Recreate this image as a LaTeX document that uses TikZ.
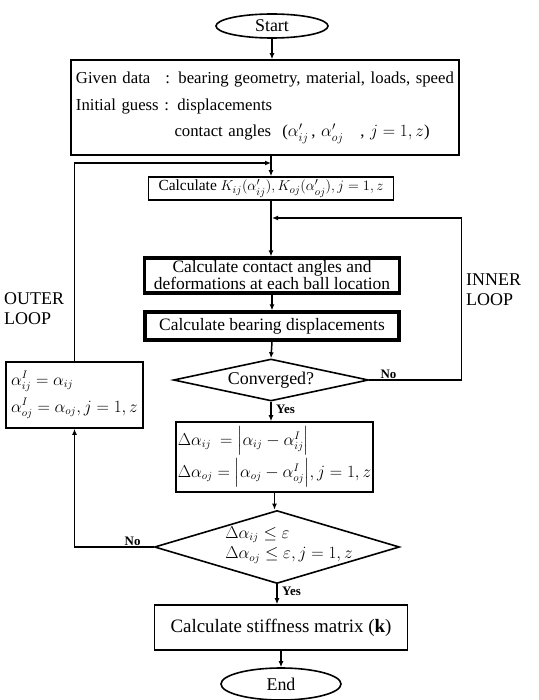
\documentclass[tikz,border=0pt]{standalone}
\usepackage{amsmath, amssymb}
\usepackage{fontspec}
\setmainfont{Liberation Serif}
\usetikzlibrary{arrows.meta, positioning, shapes.geometric}

\begin{document}
\begin{tikzpicture}[
      x=1bp, y=-1bp,
      box/.style={rectangle, draw, line width=1.6bp, inner sep=2bp},
      heavy/.style={box, line width=3.2bp},
      decision/.style={diamond, draw, line width=1.6bp, inner sep=0pt, aspect=4},
      terminal/.style={ellipse, draw, line width=1.6bp, inner sep=0pt},
      edge/.style={-{Latex[length=6bp, width=5bp]}, line width=1.5bp},
      tag/.style={font=\fontsize{13}{13}\selectfont\bfseries, inner sep=1bp},
      side/.style={font=\fontsize{18}{20}\selectfont, align=left, anchor=north west, inner sep=0pt}
    ]
    \useasboundingbox (0,0) rectangle (539,700);
    \node[terminal, minimum width=112bp, minimum height=24bp, font=\fontsize{18}{18}\selectfont] (start) at (272,26) {Start};
    \node[box, minimum width=388bp, minimum height=95bp, text width=378bp, align=left, font=\fontsize{16.8}{27}\selectfont] (given) at (265,107.5)
      {Given data\hspace{0.9em}: bearing geometry, material, loads, speed\\
       Initial guess : displacements\\
       \phantom{Initial guess :\ }contact angles \ ($\alpha'_{ij}$\,, $\alpha'_{oj}$\quad, $j=1,z$)};
    \node[box, minimum width=245bp, minimum height=23bp, font=\fontsize{15.5}{15.5}\selectfont] (calcK) at (271,188.5)
      {Calculate $K_{ij}(\alpha'_{ij}), K_{oj}(\alpha'_{oj}), j=1,z$};
    \node[heavy, minimum width=255bp, minimum height=35bp, align=center, font=\fontsize{17.5}{17}\selectfont] (angles) at (272,275.5)
      {Calculate contact angles and\\deformations at each ball location};
    \node[heavy, minimum width=254bp, minimum height=28bp, font=\fontsize{17.5}{17}\selectfont] (disp) at (272,326)
      {Calculate bearing displacements};
    \node[decision, minimum width=195bp, minimum height=42bp, font=\fontsize{18}{18}\selectfont] (conv) at (271,380) {Converged?};
    \node[box, minimum width=177bp, minimum height=70bp, align=left, font=\fontsize{16}{28}\selectfont] (delta) at (274.5,457)
      {$\Delta\alpha_{ij}\ = \Bigl|\alpha_{ij}-\alpha^{I}_{ij}\Bigr|$\\
       $\Delta\alpha_{oj} = \Bigl|\alpha_{oj}-\alpha^{I}_{oj}\Bigr|, j=1,z$};
    \node[decision, minimum width=245bp, minimum height=73bp] (check) at (277,547) {};
    \node[align=left, inner sep=0pt, font=\fontsize{16}{21}\selectfont] (checktext) at (289,545)
      {$\Delta\alpha_{ij}\le\varepsilon$\\$\Delta\alpha_{oj}\le\varepsilon, j=1,z$};
    \node[box, minimum width=253bp, minimum height=45bp, font=\fontsize{19}{19}\selectfont] (stiff) at (281,627.5)
      {Calculate stiffness matrix (\textbf{k})};
    \node[terminal, minimum width=120bp, minimum height=32bp, font=\fontsize{18}{18}\selectfont] (end) at (281,684) {End};
    \node[box, minimum width=137bp, minimum height=66bp, align=left, font=\fontsize{16}{27}\selectfont] (update) at (74.5,395)
      {$\alpha^{I}_{ij}=\alpha_{ij}$\\$\alpha^{I}_{oj}=\alpha_{oj}, j=1,z$};
    \node[side] (outerlbl) at (4,292) {OUTER\\LOOP};
    \node[side] (innerlbl) at (466,274) {INNER\\LOOP};
    \coordinate (outerjoin) at (271,163);
    \coordinate (innerjoin) at (272,218);
    \draw[edge] (start.south) -- (start.south |- given.north);
    \draw[edge] (calcK.north |- given.south) -- (calcK.north);
    \draw[edge] (calcK.south) -- (calcK.south |- angles.north);
    \draw[edge] (angles.south) -- (angles.south |- disp.north);
    \draw[edge] (disp.south) -- (conv.north);
    \draw[edge] (conv.south) -- (conv.south |- delta.north);
    \draw[edge] (delta.south) -- (delta.south |- check.north);
    \draw[edge] (check.south) -- (check.south |- stiff.north);
    \draw[edge] (stiff.south) -- (stiff.south |- end.north);
    \draw[edge] (conv.east) -- ++(92,0) |- (innerjoin);
    \draw[edge] (check.west) -| (update.south);
    \draw[edge] (update.north) |- (outerjoin);
    \node[tag, above right=0bp and 10bp of conv.east] (no1) {No};
    \node[tag, below right=2bp and 4bp of conv.south] (yes1) {Yes};
    \node[tag, above left=0bp and 12bp of check.west] (no2) {No};
    \node[tag, below right=2bp and 4bp of check.south] (yes2) {Yes};
\end{tikzpicture}
\end{document}
